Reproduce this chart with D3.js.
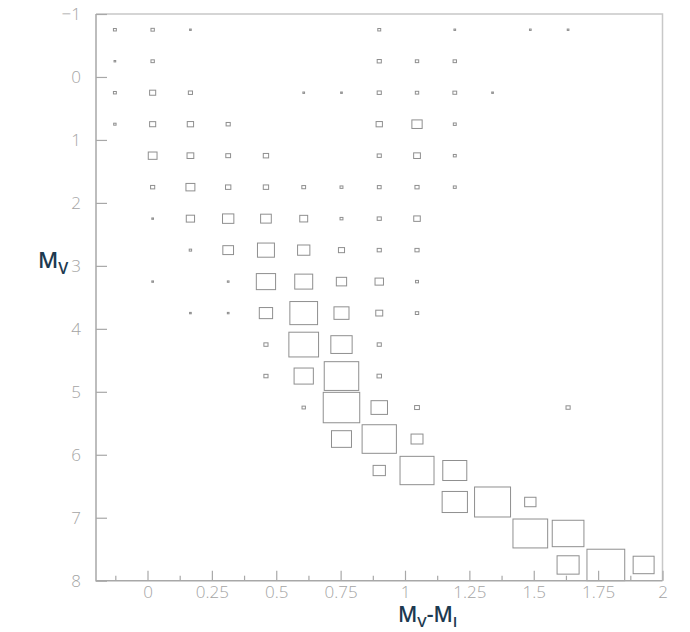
<!DOCTYPE html>
<html>
<head>
<meta charset="utf-8">
<script src="https://cdn.jsdelivr.net/npm/d3@7"></script>
<style>
  html, body { margin: 0; padding: 0; background: #fff; }
  svg { display: block; }
  .tick-label { font-family: "Open Sans", Roboto, sans-serif; font-weight: 300; font-size: 17px; fill: #a4a4a4; }
  .title { font-family: "Open Sans", Lato, sans-serif; font-weight: 600; fill: #1d3a50; }
</style>
</head>
<body>
<svg id="chart" width="690" height="632"></svg>
<script>
// Colour index (M_V - M_I) bins and absolute magnitude (M_V) bins
const xRange = [-0.2, 2];
const xBinCount = 15;
const yRange = [-1, 8];
const yBinCount = 18;

// Tick positions
const xMajorTicks = [0, 0.25, 0.5, 0.75, 1, 1.25, 1.5, 1.75, 2];
const xMinorTicks = [-0.125, 0.125, 0.375, 0.625, 0.875, 1.125, 1.375, 1.625, 1.875];
const yTicks = [-1, 0, 1, 2, 3, 4, 5, 6, 7, 8];

// Star counts per cell: one row per M_V bin (bright to faint), one column per colour bin
const counts = [
  [3, 4, 1, 0, 0, 0, 0, 3, 0, 1, 0, 1, 1, 0, 0],
  [1, 4, 0, 0, 0, 0, 0, 6, 4, 4, 0, 0, 0, 0, 0],
  [3, 13, 6, 0, 0, 1, 1, 6, 4, 5, 1, 0, 0, 0, 0],
  [2, 13, 14, 6, 0, 0, 0, 14, 37, 3, 0, 0, 0, 0, 0],
  [0, 27, 16, 8, 10, 0, 0, 6, 16, 3, 0, 0, 0, 0, 0],
  [0, 6, 28, 10, 10, 5, 3, 5, 6, 3, 0, 0, 0, 0, 0],
  [0, 1, 24, 45, 40, 22, 3, 6, 15, 0, 0, 0, 0, 0, 0],
  [0, 0, 2, 40, 101, 53, 13, 6, 6, 0, 0, 0, 0, 0, 0],
  [0, 1, 0, 1, 130, 113, 37, 25, 3, 0, 0, 0, 0, 0, 0],
  [0, 0, 1, 1, 62, 269, 79, 17, 4, 0, 0, 0, 0, 0, 0],
  [0, 0, 0, 0, 6, 309, 159, 6, 0, 0, 0, 0, 0, 0, 0],
  [0, 0, 0, 0, 6, 130, 417, 7, 0, 0, 0, 0, 0, 0, 0],
  [0, 0, 0, 0, 0, 4, 467, 95, 8, 0, 0, 0, 6, 0, 0],
  [0, 0, 0, 0, 0, 0, 140, 412, 50, 0, 0, 0, 0, 0, 0],
  [0, 0, 0, 0, 0, 0, 0, 53, 405, 202, 0, 0, 0, 0, 0],
  [0, 0, 0, 0, 0, 0, 0, 0, 0, 224, 454, 45, 0, 0, 0],
  [0, 0, 0, 0, 0, 0, 0, 0, 0, 0, 0, 422, 352, 0, 0],
  [0, 0, 0, 0, 0, 0, 0, 0, 0, 0, 0, 0, 170, 500, 154]
];

const svg = d3.select("#chart");
const plot = { left: 96, right: 662.5, top: 14, bottom: 580.7 };

const x = d3.scaleLinear().domain(xRange).range([plot.left, plot.right]);
const y = d3.scaleLinear().domain(yRange).range([plot.top, plot.bottom]);

const xStep = (xRange[1] - xRange[0]) / xBinCount;
const yStep = (yRange[1] - yRange[0]) / yBinCount;
const cellW = x(xRange[0] + xStep) - x(xRange[0]);
const cellH = y(yRange[0] + yStep) - y(yRange[0]);

// Box area proportional to the cell content
const maxCount = d3.max(counts.flat());
const side = d3.scaleSqrt().domain([0, maxCount]).range([0, 1]);

const cells = [];
counts.forEach((row, j) => row.forEach((v, i) => {
  if (v > 0) cells.push({
    cx: xRange[0] + (i + 0.5) * xStep,
    cy: yRange[0] + (j + 0.5) * yStep,
    v
  });
}));

// Frame (top and right)
svg.append("path")
  .attr("d", `M${plot.left},${plot.top}H${plot.right}V${plot.bottom}`)
  .attr("fill", "none").attr("stroke", "#c8c8c8").attr("stroke-width", 1.5);

// Boxes
svg.append("g").selectAll("rect").data(cells).join("rect")
  .attr("x", d => x(d.cx) - cellW * side(d.v) / 2)
  .attr("y", d => y(d.cy) - cellH * side(d.v) / 2)
  .attr("width", d => Math.max(1, cellW * side(d.v)))
  .attr("height", d => Math.max(1, cellH * side(d.v)))
  .attr("fill", "none")
  .attr("stroke", "#8f8f8f")
  .attr("stroke-width", 1);

// Bottom axis: ticks drawn inward
const xAxisG = svg.append("g").attr("transform", `translate(0,${plot.bottom})`);
xAxisG.call(d3.axisBottom(x).tickValues(xMinorTicks).tickSizeInner(-5).tickSizeOuter(0).tickFormat(""));
xAxisG.call(g => g.select(".domain").remove());
const xMajorG = svg.append("g").attr("transform", `translate(0,${plot.bottom})`);
xMajorG.call(d3.axisBottom(x).tickValues(xMajorTicks).tickSizeInner(-10).tickSizeOuter(0)
  .tickFormat(d => d3.format("~g")(d)));
xMajorG.select(".domain").remove();
svg.selectAll(".tick line").attr("stroke", "#a8a8a8").attr("stroke-width", 1.2);
xMajorG.selectAll(".tick text").attr("class", "tick-label").attr("font-size", null).attr("font-family", null)
  .attr("fill", null).attr("dy", "0.35em").attr("y", 11);
xMajorG.attr("font-size", null).attr("font-family", null);

// Left axis: ticks drawn inward
const yAxisG = svg.append("g").attr("transform", `translate(${plot.left},0)`);
yAxisG.call(d3.axisLeft(y).tickValues(yTicks).tickSizeInner(-11).tickSizeOuter(0)
  .tickFormat(d => d3.format("~g")(d)));
yAxisG.select(".domain").remove();
yAxisG.selectAll(".tick line").attr("stroke", "#a8a8a8").attr("stroke-width", 1.2);
yAxisG.selectAll(".tick text").attr("class", "tick-label").attr("font-size", null).attr("font-family", null)
  .attr("fill", null).attr("x", -15).attr("dy", "0.35em");
yAxisG.attr("font-size", null).attr("font-family", null);

// Axis lines
svg.append("path")
  .attr("d", `M${plot.left},${plot.top}V${plot.bottom}H${plot.right}`)
  .attr("fill", "none").attr("stroke", "#a8a8a8").attr("stroke-width", 1.5);

// Axis titles
const yTitle = svg.append("text").attr("class", "title").attr("x", 38).attr("y", 268).attr("font-size", 22);
yTitle.append("tspan").text("M");
yTitle.append("tspan").attr("font-size", 16).attr("dy", 6).text("V");

const xTitle = svg.append("text").attr("class", "title").attr("x", 398).attr("y", 622).attr("font-size", 21);
xTitle.append("tspan").text("M");
xTitle.append("tspan").attr("font-size", 15).attr("dy", 5).text("V");
xTitle.append("tspan").attr("dy", -5).text("-M");
xTitle.append("tspan").attr("font-size", 15).attr("dy", 5).text("I");
</script>
</body>
</html>
